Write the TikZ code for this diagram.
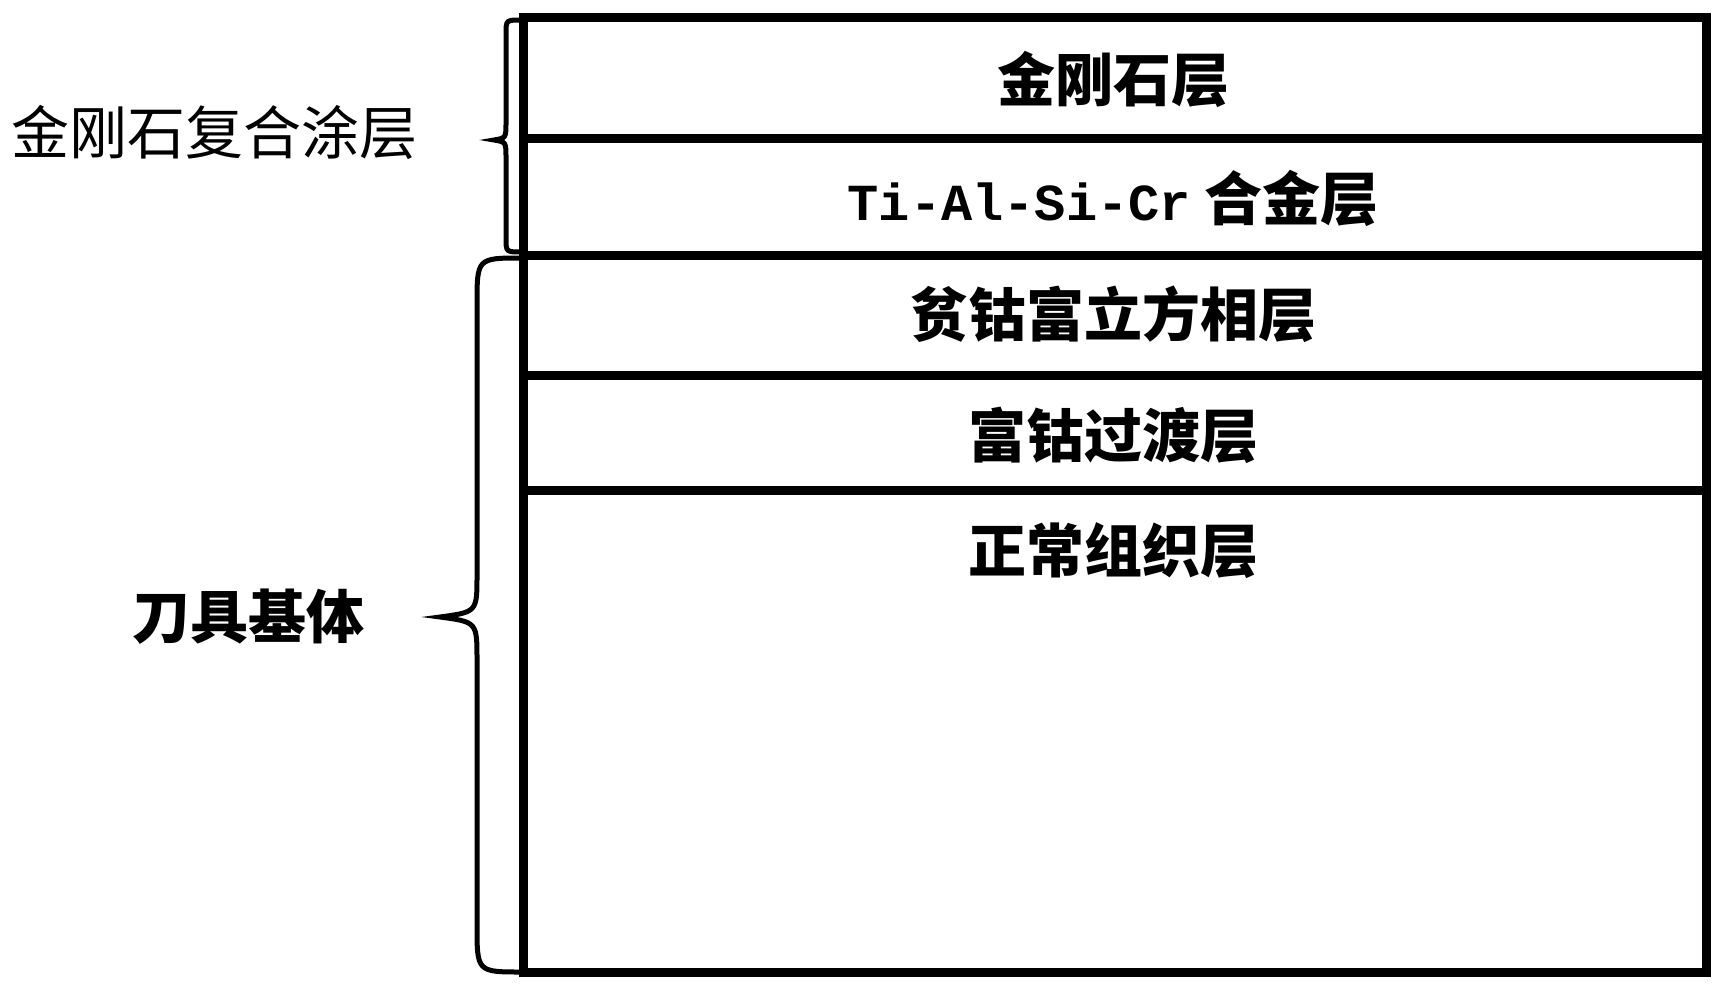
\documentclass[tikz,border=0pt]{standalone}
\usepackage{fontspec}
\newfontfamily\cjk{Noto Sans CJK SC}
\newfontfamily\mono{Liberation Mono}
\begin{document}
\begin{tikzpicture}[x=1pt,y=-1pt,
  lay/.style={font=\cjk\fontsize{58}{58}\selectfont\bfseries},
  thick line/.style={line width=9pt}]
\useasboundingbox (0,0) rectangle (1724,988);
\draw[thick line] (523,17) rectangle (1706,972);
\foreach \y in {138,255,375,490} \draw[thick line] (523,\y) -- (1706,\y);
\node[lay] (a) at (1113,79) {金刚石层};
\node[lay] (b) at (1113,198) {{\mono\bfseries\fontsize{52}{52}\selectfont Ti-Al-Si-Cr} 合金层};
\node[lay] (c) at (1113,314) {贫钴富立方相层};
\node[lay] (d) at (1113,435) {富钴过渡层};
\node[lay] (e) at (1113,551) {正常组织层};
\node[font=\cjk\fontsize{58}{58}\selectfont] (l1) at (215,132) {金刚石复合涂层};
\node[lay] (l2) at (248,617) {刀具基体};
\draw[line width=5pt, line cap=round]
  (522,20) .. controls (506,20) .. (506,34) -- (506,122) .. controls (506,138) .. (494,140)
  .. controls (506,142) .. (506,158) -- (506,238) .. controls (506,252) .. (522,252);
\draw[line width=5pt, line cap=round]
  (522,258) .. controls (477,258) .. (477,305) -- (477,575) .. controls (477,612) .. (440,617)
  .. controls (477,622) .. (477,660) -- (477,925) .. controls (477,972) .. (522,972);
\end{tikzpicture}
\end{document}
